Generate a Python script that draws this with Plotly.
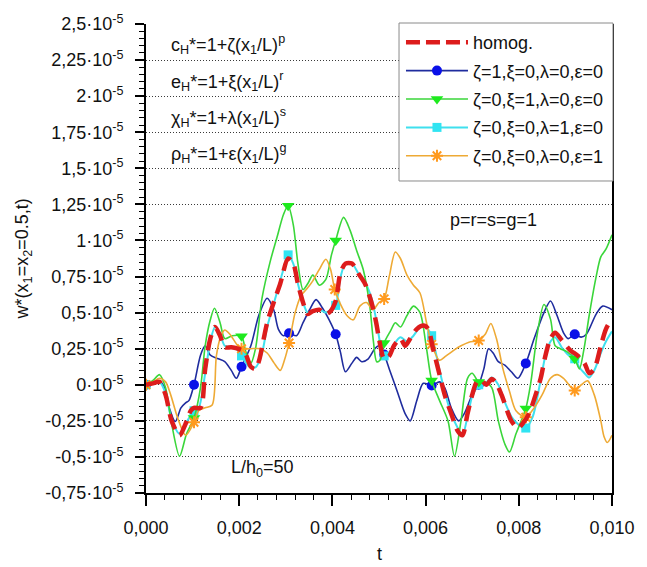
import numpy as np
import plotly.graph_objects as go

# ---- data: t in units of 1e-3, w* in units of 1e-5 ----
HOMOG = [(0,0),(0.15,0.01),(0.29,0.02),(0.42,-0.07),(0.55,-0.25),(0.72,-0.35),(0.85,-0.27),(0.96,-0.18),(1.03,-0.16),(1.17,-0.16),(1.27,0.11),(1.38,0.32),(1.48,0.4),(1.59,0.34),(1.69,0.26),(1.83,0.26),(1.97,0.25),(2.11,0.23),(2.25,0.125),(2.35,0.11),(2.42,0.16),(2.6,0.43),(2.74,0.57),(2.88,0.70),(3.05,0.875),(3.16,0.84),(3.26,0.70),(3.37,0.57),(3.47,0.49),(3.58,0.51),(3.72,0.52),(3.86,0.49),(3.96,0.51),(4.07,0.58),(4.17,0.77),(4.28,0.84),(4.42,0.84),(4.56,0.77),(4.7,0.70),(4.84,0.57),(4.94,0.43),(5.0,0.32),(5.11,0.18),(5.22,0.2),(5.32,0.27),(5.46,0.32),(5.56,0.27),(5.67,0.32),(5.81,0.386),(5.95,0.41),(6.05,0.39),(6.16,0.25),(6.3,0.07),(6.41,-0.07),(6.55,-0.2),(6.69,-0.32),(6.79,-0.35),(6.9,-0.2),(7.0,-0.07),(7.1,0.02),(7.2,0.03),(7.3,0.0),(7.42,0.04),(7.5,0.02),(7.63,-0.07),(7.84,-0.25),(7.98,-0.3),(8.08,-0.27),(8.22,-0.2),(8.36,-0.07),(8.47,0.045),(8.57,0.2),(8.68,0.32),(8.78,0.36),(8.92,0.31),(9.1,0.24),(9.27,0.2),(9.41,0.15),(9.51,0.08),(9.62,0.11),(9.76,0.27),(9.87,0.386),(10.0,0.46)]

ZETA = [(0,0),(0.15,0.01),(0.29,0.023),(0.4,-0.02),(0.5,-0.16),(0.63,-0.255),(0.75,-0.16),(0.85,-0.125),(0.92,-0.11),(1.03,0.0),(1.17,0.205),(1.27,0.27),(1.38,0.205),(1.55,0.18),(1.69,0.16),(1.83,0.10),(1.94,0.045),(2.05,0.125),(2.25,0.27),(2.42,0.48),(2.6,0.60),(2.74,0.52),(2.84,0.386),(2.95,0.34),(3.07,0.357),(3.23,0.34),(3.37,0.43),(3.51,0.52),(3.65,0.59),(3.79,0.53),(3.93,0.45),(4.07,0.35),(4.17,0.23),(4.28,0.09),(4.42,0.15),(4.52,0.19),(4.63,0.16),(4.77,0.18),(4.91,0.25),(5.0,0.27),(5.11,0.21),(5.22,0.11),(5.39,-0.045),(5.56,-0.2),(5.67,-0.25),(5.81,-0.11),(5.95,0.01),(6.13,-0.005),(6.3,0.02),(6.41,-0.02),(6.55,-0.16),(6.71,-0.25),(6.83,-0.2),(7.0,-0.07),(7.14,0.0),(7.25,0.11),(7.35,0.25),(7.45,0.22),(7.56,0.16),(7.7,0.136),(7.84,0.09),(7.98,0.045),(8.15,0.148),(8.33,0.32),(8.54,0.5),(8.68,0.58),(8.82,0.48),(8.96,0.36),(9.06,0.32),(9.2,0.35),(9.34,0.33),(9.45,0.35),(9.66,0.49),(9.8,0.545),(10.0,0.52)]
ZETA_MARK_T = [0, 1.03, 2.05, 3.07, 4.07, 5.11, 6.13, 7.14, 8.15, 9.2]

XI = [(0,0),(0.15,0.03),(0.29,0.07),(0.42,-0.02),(0.55,-0.27),(0.72,-0.495),(0.87,-0.34),(1.03,-0.23),(1.17,-0.02),(1.27,0.27),(1.38,0.45),(1.47,0.53),(1.59,0.43),(1.69,0.32),(1.85,0.34),(2.05,0.336),(2.14,0.23),(2.25,0.15),(2.35,0.25),(2.49,0.6),(2.67,0.86),(2.81,1.02),(2.95,1.18),(3.05,1.24),(3.16,1.11),(3.26,0.84),(3.37,0.66),(3.47,0.70),(3.58,0.76),(3.72,0.69),(3.86,0.73),(3.98,0.9),(4.07,1.0),(4.24,1.16),(4.38,1.07),(4.52,0.93),(4.66,0.8),(4.8,0.55),(4.88,0.3),(4.95,0.16),(5.02,0.17),(5.11,0.29),(5.25,0.375),(5.35,0.43),(5.46,0.40),(5.6,0.48),(5.74,0.545),(5.88,0.5),(6.02,0.25),(6.13,0.03),(6.3,-0.11),(6.48,-0.25),(6.62,-0.495),(6.76,-0.25),(6.9,0.045),(7.0,0.08),(7.14,0.02),(7.28,0.02),(7.42,-0.02),(7.56,-0.25),(7.7,-0.41),(7.8,-0.466),(7.94,-0.34),(8.15,-0.164),(8.26,0.02),(8.4,0.36),(8.54,0.556),(8.68,0.455),(8.78,0.27),(8.89,0.25),(9.03,0.23),(9.2,0.18),(9.3,0.11),(9.4,0.25),(9.51,0.48),(9.66,0.75),(9.76,0.886),(9.87,0.94),(10.0,1.04)]
XI_MARK_T = [0, 1.03, 2.05, 3.05, 4.07, 5.11, 6.13, 7.14, 8.15, 9.2]

LAMBDA = [(0,0),(0.15,0.01),(0.29,0.02),(0.42,-0.06),(0.55,-0.24),(0.72,-0.34),(0.85,-0.27),(1.03,-0.18),(1.13,-0.16),(1.27,0.08),(1.38,0.3),(1.48,0.4),(1.59,0.35),(1.69,0.27),(1.83,0.26),(1.97,0.24),(2.05,0.2),(2.2,0.13),(2.35,0.12),(2.49,0.22),(2.6,0.4),(2.81,0.64),(2.95,0.8),(3.05,0.9),(3.16,0.84),(3.26,0.7),(3.37,0.57),(3.47,0.5),(3.58,0.51),(3.72,0.52),(3.86,0.5),(3.96,0.52),(4.07,0.55),(4.17,0.74),(4.28,0.84),(4.42,0.84),(4.56,0.77),(4.7,0.71),(4.84,0.6),(4.94,0.45),(5.03,0.28),(5.11,0.2),(5.22,0.22),(5.32,0.28),(5.46,0.33),(5.6,0.3),(5.74,0.34),(5.88,0.4),(5.98,0.41),(6.06,0.38),(6.13,0.34),(6.3,0.1),(6.41,-0.05),(6.55,-0.2),(6.69,-0.3),(6.79,-0.35),(6.9,-0.22),(7.0,-0.08),(7.14,0.0),(7.28,0.01),(7.42,0.05),(7.56,0.0),(7.7,-0.12),(7.84,-0.22),(7.94,-0.26),(8.05,-0.29),(8.15,-0.3),(8.3,-0.22),(8.45,0.0),(8.57,0.2),(8.68,0.3),(8.78,0.33),(8.92,0.26),(9.05,0.21),(9.2,0.18),(9.3,0.12),(9.41,0.08),(9.51,0.05),(9.62,0.1),(9.76,0.22),(9.87,0.3),(10.0,0.37)]
LAMBDA_MARK_T = [0, 1.03, 2.05, 3.05, 4.07, 5.11, 6.13, 7.14, 8.15, 9.2]

EPS = [(0,0),(0.15,0.02),(0.29,0.045),(0.42,0.02),(0.53,-0.07),(0.68,-0.23),(0.85,-0.35),(1.03,-0.26),(1.13,-0.18),(1.27,-0.16),(1.42,-0.14),(1.51,0.2),(1.6,0.33),(1.69,0.38),(1.8,0.35),(1.97,0.27),(2.05,0.25),(2.25,0.25),(2.45,0.25),(2.6,0.22),(2.75,0.15),(2.88,0.1),(2.97,0.17),(3.07,0.29),(3.2,0.5),(3.33,0.62),(3.44,0.66),(3.58,0.72),(3.72,0.8),(3.86,0.87),(3.96,0.80),(4.05,0.66),(4.17,0.56),(4.31,0.48),(4.45,0.45),(4.59,0.545),(4.73,0.57),(4.87,0.52),(5.0,0.57),(5.11,0.595),(5.22,0.75),(5.35,0.92),(5.46,0.875),(5.6,0.76),(5.74,0.69),(5.88,0.636),(6.02,0.43),(6.13,0.28),(6.3,0.17),(6.44,0.2),(6.61,0.24),(6.76,0.27),(6.93,0.295),(7.14,0.307),(7.28,0.35),(7.4,0.425),(7.52,0.32),(7.66,0.11),(7.8,-0.045),(7.94,-0.18),(8.15,-0.225),(8.33,-0.16),(8.5,-0.07),(8.68,0.045),(8.82,0.07),(8.96,0.045),(9.2,-0.04),(9.34,0.0),(9.48,0.027),(9.62,-0.07),(9.76,-0.25),(9.83,-0.36),(9.9,-0.4),(10.0,-0.35)]
EPS_MARK_T = [0, 1.03, 2.05, 3.07, 4.05, 5.11, 6.13, 7.14, 8.15, 9.2]

X_TICKS = [0, 2, 4, 6, 8, 10]
X_TICK_TEXT = ["0,000", "0,002", "0,004", "0,006", "0,008", "0,010"]
Y_TICKS = [-0.75, -0.5, -0.25, 0, 0.25, 0.5, 0.75, 1, 1.25, 1.5, 1.75, 2, 2.25, 2.5]
Y_TICK_TEXT = ["-0,75", "-0,5", "-0,25", "0", "0,25", "0,5", "0,75", "1", "1,25", "1,5", "1,75", "2", "2,25", "2,5"]

TS, WS = 1e-3, 1e-5
FONT = "Liberation Sans, Arial, sans-serif"
TXT = "#111111"
FS = 18

# plot-area pixel geometry
L, R, T, B = 146, 623, 18, 493
PW, PH = R - L, B - T


def unzip(pts):
    a = np.array(pts, dtype=float)
    return a[:, 0] * TS, a[:, 1] * WS


def marks(pts, mark_t):
    sel = [p for p in pts if any(abs(p[0] - m) < 1e-9 for m in mark_t)]
    return unzip(sel)


series = [
    # name, data, marks, line color, line width, marker color, symbol, size
    ("ζ=1,ξ=0,λ=0,ε=0", ZETA, ZETA_MARK_T, "#1f2c9e", 1.6, "#0a10e8", "circle", 10),
    ("ζ=0,ξ=0,λ=1,ε=0", LAMBDA, LAMBDA_MARK_T, "#3fe0ee", 2.0, "#30e4f2", "square", 9),
    ("ζ=0,ξ=1,λ=0,ε=0", XI, XI_MARK_T, "#3ad63a", 1.6, "#1eea1e", "triangle-down", 11),
    ("ζ=0,ξ=0,λ=0,ε=1", EPS, EPS_MARK_T, "#eeaa35", 1.6, "#ff9a1e", "asterisk", 10),
]

fig = go.Figure()

for name, pts, mt, lc, lw, mc, sym, ms in series:
    x, y = unzip(pts)
    fig.add_trace(go.Scatter(x=x, y=y, mode="lines", showlegend=False, hoverinfo="skip",
                             line=dict(color=lc, width=lw, shape="spline", smoothing=0.8)))
    mx, my = marks(pts, mt)
    mk = dict(color=mc, size=ms, symbol=sym, line=dict(width=0))
    if sym == "asterisk":
        mk["line"] = dict(color=mc, width=2)
    fig.add_trace(go.Scatter(x=mx, y=my, mode="markers", showlegend=False, hoverinfo="skip", marker=mk))

hx, hy = unzip(HOMOG)
fig.add_trace(go.Scatter(x=hx, y=hy, mode="lines", showlegend=False, hoverinfo="skip",
                         line=dict(color="#dd1c1c", width=4.5, dash="16px,8px", shape="spline", smoothing=0.8)))

# legend entries
fig.add_trace(go.Scatter(x=[None], y=[None], mode="lines", name="homog.", legendgroup="g0",
                         line=dict(color="#dd1c1c", width=4.5, dash="14px,6px")))
order = [0, 2, 1, 3]
for k, i in enumerate(order):
    name, pts, mt, lc, lw, mc, sym, ms = series[i]
    mk = dict(color=mc, size=ms, symbol=sym, line=dict(width=0))
    if sym == "asterisk":
        mk["line"] = dict(color=mc, width=2)
    fig.add_trace(go.Scatter(x=[None], y=[None], mode="lines+markers", name=name, legendgroup=f"g{k+1}",
                             line=dict(color=lc, width=lw), marker=mk))

ann = []
formulas = [
    ("c<sub>H</sub>*=1+ζ(x<sub>1</sub>/L)<sup>p</sup>", 2.355),
    ("e<sub>H</sub>*=1+ξ(x<sub>1</sub>/L)<sup>r</sup>", 2.105),
    ("χ<sub>H</sub>*=1+λ(x<sub>1</sub>/L)<sup>s</sup>", 1.855),
    ("ρ<sub>H</sub>*=1+ε(x<sub>1</sub>/L)<sup>g</sup>", 1.605),
]
for text, yy in formulas:
    ann.append(dict(x=0.5 * TS, y=yy * WS, xref="x", yref="y", text=text, showarrow=False,
                    xanchor="left", yanchor="middle", font=dict(family=FONT, size=FS, color=TXT)))
ann.append(dict(x=7.45 * TS, y=1.14 * WS, xref="x", yref="y", text="p=r=s=g=1", showarrow=False,
                xanchor="center", yanchor="middle", font=dict(family=FONT, size=FS, color=TXT)))
ann.append(dict(x=2.5 * TS, y=-0.58 * WS, xref="x", yref="y", text="L/h<sub>0</sub>=50", showarrow=False,
                xanchor="center", yanchor="middle", font=dict(family=FONT, size=FS, color=TXT)))
ann.append(dict(x=-125 / PW, y=0.5, xref="paper", yref="paper",
                text="w*(x<sub>1</sub>=x<sub>2</sub>=0.5,t)", showarrow=False, textangle=-90,
                xanchor="center", yanchor="middle", font=dict(family=FONT, size=FS, color=TXT)))
ann.append(dict(x=0.5, y=-62 / PH, xref="paper", yref="paper", text="t", showarrow=False,
                xanchor="center", yanchor="middle", font=dict(family=FONT, size=FS, color=TXT)))

# legend frame (white box covering curves beneath the legend)
legend_box = dict(type="rect", xref="paper", yref="paper", layer="above",
                  x0=(405 - L) / PW, x1=(624 - L) / PW, y0=(B - 177) / PH, y1=(B - 17) / PH,
                  fillcolor="white", line=dict(color="#8a8a8a", width=1))

fig.update_layout(
    width=647, height=567,
    margin=dict(l=L, r=647 - R, t=T, b=567 - B),
    paper_bgcolor="white", plot_bgcolor="white",
    font=dict(family=FONT, size=FS, color=TXT),
    annotations=ann,
    shapes=[legend_box],
    legend=dict(x=(407 - L) / PW, y=1.0, xanchor="left", yanchor="top",
                bgcolor="rgba(255,255,255,0)", borderwidth=0,
                font=dict(family=FONT, size=FS, color=TXT),
                traceorder="grouped", tracegroupgap=2, itemwidth=62),
    xaxis=dict(range=[0, 10 * TS], tickmode="array", tickvals=[v * TS for v in X_TICKS],
               ticktext=X_TICK_TEXT, ticks="outside", ticklen=11, tickwidth=1.5, tickcolor="black",
               showline=True, linecolor="black", linewidth=2, showgrid=False, zeroline=False,
               mirror=False, ticklabelstandoff=6,
               minor=dict(tick0=0, dtick=0.4 * TS, ticks="outside", ticklen=5, tickwidth=1.2,
                          tickcolor="black", showgrid=False),
               tickfont=dict(family=FONT, size=FS, color=TXT)),
    yaxis=dict(range=[-0.75 * WS, 2.5 * WS], tickmode="array", tickvals=[v * WS for v in Y_TICKS],
               ticktext=[t + "·10<sup>-5</sup>" for t in Y_TICK_TEXT],
               ticks="outside", ticklen=9, tickwidth=1.5, tickcolor="black",
               showline=True, linecolor="black", linewidth=2, mirror=True,
               showgrid=True, gridcolor="#3a3a3a", griddash="1px,2px", gridwidth=1, zeroline=False,
               ticklabelstandoff=8,
               minor=dict(tick0=-0.75 * WS, dtick=0.05 * WS, ticks="outside", ticklen=5, tickwidth=1.2,
                          tickcolor="black", showgrid=False),
               tickfont=dict(family=FONT, size=FS, color=TXT)),
)

fig.write_html("out.html")
